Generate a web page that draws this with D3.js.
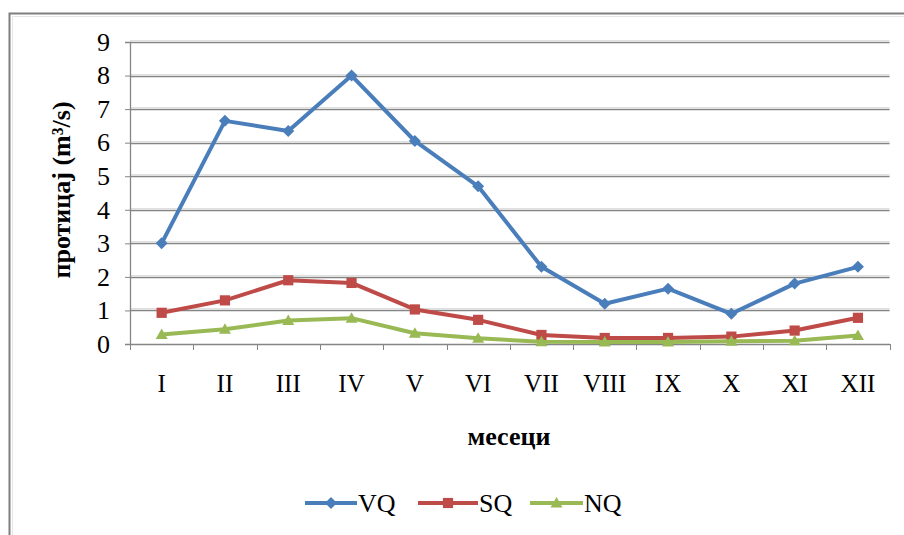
<!DOCTYPE html>
<html><head><meta charset="utf-8">
<script src="https://cdn.jsdelivr.net/npm/d3@7"></script>
<style>body{margin:0;background:#fff}svg{display:block}</style>
</head><body>
<svg id="c" width="904" height="535"></svg>
<script>
const months = ["I","II","III","IV","V","VI","VII","VIII","IX","X","XI","XII"];
const VQ = [3.0, 6.65, 6.35, 8.0, 6.05, 4.7, 2.3, 1.2, 1.65, 0.9, 1.8, 2.3];
const SQ = [0.93, 1.3, 1.9, 1.82, 1.03, 0.72, 0.27, 0.18, 0.18, 0.22, 0.4, 0.78];
const NQ = [0.28, 0.44, 0.7, 0.77, 0.32, 0.17, 0.07, 0.06, 0.06, 0.08, 0.1, 0.25];
const yTicks = [0,1,2,3,4,5,6,7,8,9];
const seriesNames = ["VQ","SQ","NQ"];
const seriesColors = ["#4A7EBB","#BE4B48","#98B954"];
const seriesData = [VQ, SQ, NQ];

const svg = d3.select("#c");
const font = "'Liberation Serif', 'Times New Roman', serif";

// outer frame
svg.append("rect").attr("x",9.5).attr("y",13.5).attr("width",904).attr("height",540)
  .attr("fill","none").attr("stroke","#7f7f7f").attr("stroke-width",2);
svg.append("rect").attr("x",12.5).attr("y",16.5).attr("width",904).attr("height",540)
  .attr("fill","none").attr("stroke","#e6e6e6").attr("stroke-width",1);

const L = 130, R = 889.6, T = 42, B = 344;
const x = d3.scaleBand().domain(months).range([L, R]);
const y = d3.scaleLinear().domain([0, 9]).range([B, T]);

// gridlines
svg.append("g").selectAll("line").data(yTicks.slice(1)).join("line")
  .attr("x1", L).attr("x2", R)
  .attr("y1", d => Math.round(y(d)) + 0.5).attr("y2", d => Math.round(y(d)) + 0.5)
  .attr("stroke", "#858585").attr("stroke-width", 1.3);
svg.append("g").selectAll("line").data(yTicks.slice(1)).join("line")
  .attr("x1", L).attr("x2", R)
  .attr("y1", d => Math.round(y(d)) - 1.5).attr("y2", d => Math.round(y(d)) - 1.5)
  .attr("stroke", "#e0e0e0").attr("stroke-width", 1);

// y axis
const yAxis = d3.axisLeft(y).tickValues(yTicks).tickSize(5).tickPadding(15);
const gy = svg.append("g").attr("transform", `translate(${L},0)`).call(yAxis);
gy.select(".domain").attr("stroke", "#858585").attr("stroke-width", 1.3);
gy.selectAll(".tick line").attr("stroke", "#858585");
gy.selectAll("text").style("font-family", font).style("font-size", "26px").attr("fill", "#000");

// x axis
const xAxis = d3.axisBottom(x).tickSize(0).tickPadding(30);
const gx = svg.append("g").attr("transform", `translate(0,${B})`).call(xAxis);
gx.select(".domain").attr("stroke", "#858585").attr("stroke-width", 1.6);
gx.selectAll("text").style("font-family", font).style("font-size", "25px").attr("fill", "#000");
// category separator ticks
svg.append("g").selectAll("line").data(months.concat(["end"])).join("line")
  .attr("x1", (d,i) => Math.round(L + i * x.step()) + 0.5)
  .attr("x2", (d,i) => Math.round(L + i * x.step()) + 0.5)
  .attr("y1", B).attr("y2", B + 6).attr("stroke", "#858585");

// axis titles
svg.append("text").attr("transform", "translate(70,190) rotate(-90)")
  .attr("text-anchor", "middle").style("font-family", font).style("font-weight", "bold")
  .style("font-size", "26px").text("протицај (m³/s)");
svg.append("text").attr("x", 509).attr("y", 445)
  .attr("text-anchor", "middle").style("font-family", font).style("font-weight", "bold")
  .style("font-size", "26px").text("месеци");

const cx = d => x(d) + x.bandwidth() / 2;
const line = d3.line().x((d,i) => cx(months[i])).y(d => y(d));

function marker(g, type, color, px, py, s) {
  if (type === 0) {
    g.append("path").attr("d", `M${px},${py-s}L${px+s},${py}L${px},${py+s}L${px-s},${py}Z`).attr("fill", color);
  } else if (type === 1) {
    g.append("rect").attr("x", px - s*0.85).attr("y", py - s*0.85).attr("width", s*1.7).attr("height", s*1.7).attr("fill", color);
  } else {
    g.append("path").attr("d", `M${px},${py-s}L${px+s},${py+s*0.75}L${px-s},${py+s*0.75}Z`).attr("fill", color);
  }
}

seriesData.forEach((data, si) => {
  const g = svg.append("g");
  g.append("path").datum(data).attr("d", line).attr("fill", "none")
    .attr("stroke", seriesColors[si]).attr("stroke-width", 4).attr("stroke-linejoin", "round");
  data.forEach((v, i) => marker(g, si, seriesColors[si], cx(months[i]), y(v), 6));
});

// legend
const legX = [305, 418, 530];
const legLen = [52, 60, 53];
seriesNames.forEach((n, i) => {
  const g = svg.append("g");
  g.append("line").attr("x1", legX[i]).attr("x2", legX[i] + legLen[i]).attr("y1", 503).attr("y2", 503)
    .attr("stroke", seriesColors[i]).attr("stroke-width", 4);
  marker(g, i, seriesColors[i], legX[i] + legLen[i] / 2, 503, 6);
  g.append("text").attr("x", legX[i] + legLen[i] + 1).attr("y", 512)
    .style("font-family", font).style("font-size", "26px").text(n);
});
</script>
</body></html>
